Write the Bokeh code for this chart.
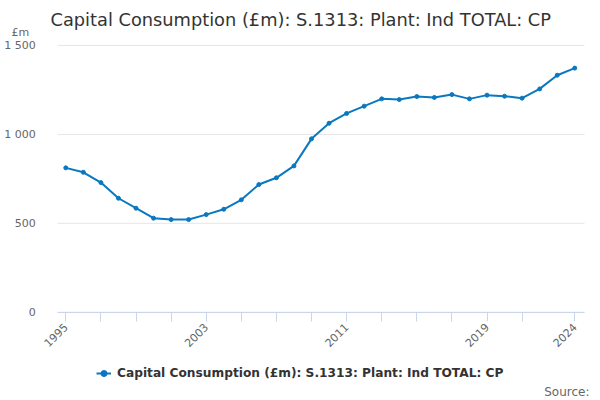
import math
from bokeh.plotting import figure
from bokeh.models import (FixedTicker, Label, Legend, LegendItem, Range1d)
from bokeh.embed import file_html
from bokeh.resources import INLINE

years = list(range(1995, 2025))
values = [812, 787, 729, 641, 585, 529, 521, 521, 549, 579, 632, 718, 756, 823,
          975, 1063, 1118, 1159, 1200, 1196, 1213, 1208, 1224, 1200, 1221, 1215,
          1204, 1256, 1333, 1373]
y_ticks = [0, 500, 1000, 1500]
y_tick_labels = ["0", "500", "1 000", "1 500"]
x_ticks = list(range(1995, 2022, 2)) + [2024]
x_labelled = [1995, 2003, 2011, 2019, 2024]
title_text = "Capital Consumption (£m): S.1313: Plant: Ind TOTAL: CP"
series_name = "Capital Consumption (£m): S.1313: Plant: Ind TOTAL: CP"
unit_text = "£m"
source_text = "Source:"

FONT = "DejaVu Sans"
LINE_COLOR = "#0a78c0"
W, H = 592, 398

# plotting area (data units) and the full canvas extent (data units)
X_START, X_END = 1994.544, 2024.556
FRAME_X = (1991.279, 2025.011)
FRAME_Y = (-485.4, 1753.3)

p = figure(width=W, height=H, output_backend="svg", toolbar_location=None,
           title=None, x_range=Range1d(*FRAME_X), y_range=Range1d(*FRAME_Y),
           min_border=0, min_border_left=0, min_border_right=0,
           min_border_top=0, min_border_bottom=0)
p.outline_line_color = None
p.background_fill_color = "white"
p.border_fill_color = "white"

# horizontal grid lines at the value ticks, across the plotting area
p.xgrid.visible = False
p.ygrid.visible = False
p.segment(x0=[X_START] * len(y_ticks), y0=y_ticks,
          x1=[X_END] * len(y_ticks), y1=y_ticks,
          line_color="#e6e6e6", line_width=1, level="underlay")

r_line = p.line(years, values, line_color=LINE_COLOR, line_width=2)
r_pts = p.scatter(years, values, size=4, fill_color=LINE_COLOR,
                  line_color=LINE_COLOR)

ya = p.yaxis[0]
ya.fixed_location = X_START
ya.ticker = FixedTicker(ticks=y_ticks)
ya.major_label_overrides = {t: l for t, l in zip(y_ticks, y_tick_labels)}
ya.axis_line_color = None
ya.major_tick_line_color = None
ya.minor_tick_line_color = None
ya.major_label_text_color = "#666666"
ya.major_label_text_font = FONT
ya.major_label_text_font_size = "11px"
ya.major_label_standoff = 16

xa = p.xaxis[0]
xa.fixed_location = 0
xa.bounds = (X_START, X_END)
xa.ticker = FixedTicker(ticks=x_ticks)
xa.major_label_overrides = {t: (str(t) if t in x_labelled else "") for t in x_ticks}
xa.axis_line_color = "#ccd6eb"
xa.major_tick_line_color = "#ccd6eb"
xa.major_tick_out = 9
xa.major_tick_in = 0
xa.minor_tick_line_color = None
xa.major_label_orientation = math.pi / 4
xa.major_label_text_color = "#666666"
xa.major_label_text_font = FONT
xa.major_label_text_font_size = "11px"
xa.major_label_standoff = 4

# texts (screen units: from the left and from the bottom of the canvas)
p.add_layout(Label(x=50, y=H - 19, x_units="screen", y_units="screen",
                   text=title_text, text_align="left", text_baseline="middle",
                   text_font=FONT, text_font_size="17.8px", text_color="#333333"))
p.add_layout(Label(x=11, y=H - 32, x_units="screen", y_units="screen",
                   text=unit_text, text_align="left", text_baseline="middle",
                   text_font=FONT, text_font_size="11px", text_color="#666666"))
p.add_layout(Label(x=589, y=H - 391, x_units="screen", y_units="screen",
                   text=source_text, text_align="right", text_baseline="middle",
                   text_font=FONT, text_font_size="12px", text_color="#666666"))

legend = Legend(items=[LegendItem(label=series_name, renderers=[r_line, r_pts])],
                location=(96, H - 381), orientation="horizontal",
                padding=0, margin=0, glyph_width=15, glyph_height=16,
                label_height=16, label_standoff=6, border_line_color=None,
                background_fill_alpha=0,
                label_text_font=FONT, label_text_font_size="12.2px",
                label_text_font_style="bold", label_text_color="#333333")
p.add_layout(legend, "center")

open("out.html", "w").write(file_html(p, INLINE))
